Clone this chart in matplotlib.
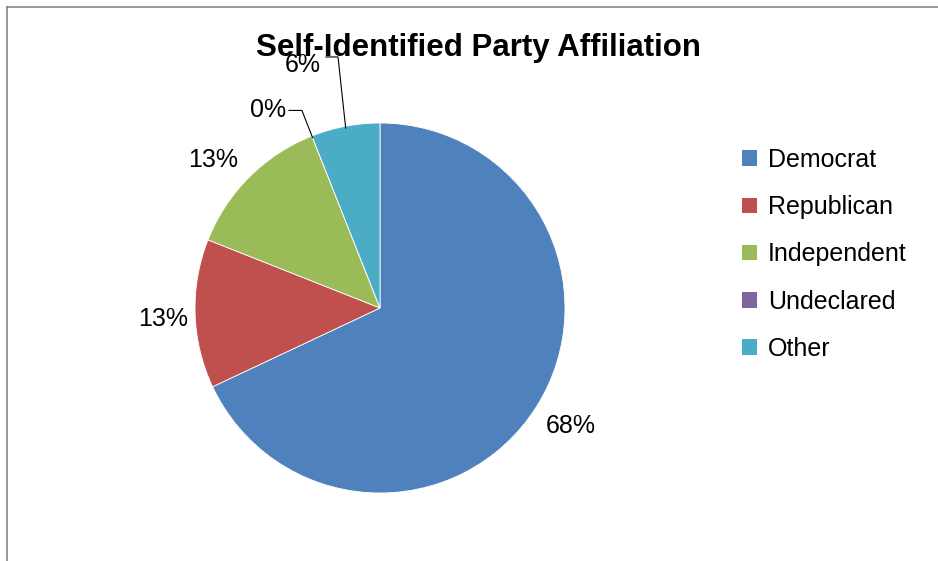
import matplotlib
matplotlib.use("Agg")
import matplotlib.pyplot as plt
from matplotlib.lines import Line2D
from matplotlib.patches import Patch
import numpy as np

plt.rcParams['font.family'] = ['Liberation Sans', 'DejaVu Sans']

# Survey results (percent of respondents)
parties = ["Democrat", "Republican", "Independent", "Undeclared", "Other"]
shares = [68, 13, 13, 0, 6]
colors = ["#4F81BD", "#C0504D", "#9BBB59", "#8064A2", "#4BACC6"]
title = "Self-Identified Party Affiliation"

W, H = 938, 561
fig = plt.figure(figsize=(W / 100, H / 100), dpi=100)

# pie axes: center at (380, 308) px, radius 185 px, limits +-1.2
R = 185
cx, cy = 380, 308
half = 1.2 * R
ax = fig.add_axes([(cx - half) / W, (H - cy - half) / H, 2 * half / W, 2 * half / H])

wedges, _, autotexts = ax.pie(
    shares, colors=colors, startangle=90, counterclock=False,
    autopct="%.0f%%", pctdistance=1.2, radius=1.0,
    wedgeprops=dict(edgecolor="white", linewidth=0.6),
    textprops=dict(fontsize=18, color="black"),
)
ax.set_xlim(-1.2, 1.2)
ax.set_ylim(-1.2, 1.2)
ax.axis("off")
for t in autotexts:
    t.set_clip_on(False)

# label placement (in pie-radius units)
label_pos = {0: (1.032, -0.64), 1: (-1.173, -0.062), 2: (-0.903, 0.80)}
for i, pos in label_pos.items():
    autotexts[i].set_position(pos)

# small slices get labels moved up with leader lines
moved = {3: ((-0.605, 1.072), (-0.492, 1.068), (-0.422, 1.068)),
         4: ((-0.416, 1.316), (-0.292, 1.357), (-0.227, 1.357))}
for i, (txt_pos, p0, p1) in moved.items():
    autotexts[i].set_position(txt_pos)
    w = wedges[i]
    theta = np.deg2rad((w.theta1 + w.theta2) / 2)
    end = (0.99 * np.cos(theta), 0.99 * np.sin(theta))
    ax.add_line(Line2D([p0[0], p1[0], end[0]], [p0[1], p1[1], end[1]],
                       color="black", lw=0.8, clip_on=False))

fig.text(478 / W, 1 - 48 / H, title, ha="center", va="center",
         fontsize=22.5, fontweight="bold")

handles = [Patch(facecolor=c, edgecolor="none") for c in colors]
leg = fig.legend(handles, parties, loc="upper left",
                 bbox_to_anchor=(732 / W, 1 - 138 / H), frameon=False,
                 fontsize=18, handlelength=0.58, handleheight=0.58,
                 handletextpad=0.45, labelspacing=0.93, borderaxespad=0,
                 borderpad=0.4)

# chart area border (top and left edges)
fig.add_artist(Line2D([7 / W, 7 / W], [0, 1 - 7 / H], color="#868686", lw=1.2,
                      transform=fig.transFigure))
fig.add_artist(Line2D([7 / W, 1], [1 - 7 / H, 1 - 7 / H], color="#868686", lw=1.2,
                      transform=fig.transFigure))

fig.savefig("out.png", dpi=100)
